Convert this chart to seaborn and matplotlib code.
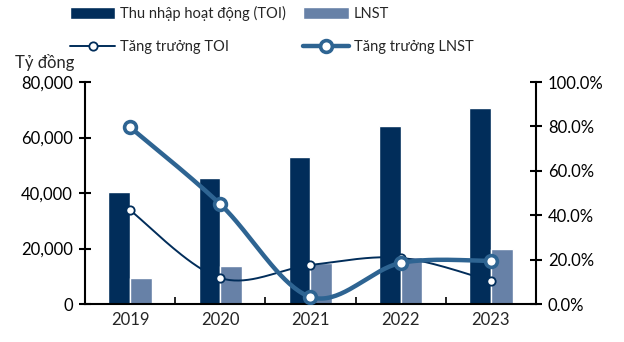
import numpy as np
import pandas as pd
import matplotlib
matplotlib.use("Agg")
import matplotlib.pyplot as plt
import seaborn as sns
from matplotlib.patches import Patch
from matplotlib.lines import Line2D
from matplotlib.ticker import FuncFormatter, FixedLocator

years = ["2019", "2020", "2021", "2022", "2023"]
toi = [40500, 45400, 53000, 64000, 70700]
lnst = [9400, 13700, 14800, 17000, 19800]
toi_growth = [42.3, 11.7, 17.6, 20.8, 10.4]
lnst_growth = [79.7, 45.0, 3.2, 18.5, 19.4]

c_toi = "#012d5a"
c_lnst = "#6781a7"
c_line2 = "#2e6492"

sns.set_theme(style="white")
plt.rcParams["font.family"] = ["Lato", "DejaVu Sans"]
plt.rcParams["font.size"] = 11

df = pd.DataFrame({
    "year": years * 2,
    "value": toi + lnst,
    "series": ["Thu nhập hoạt động (TOI)"] * 5 + ["LNST"] * 5,
})

fig = plt.figure(figsize=(6.24, 3.42), dpi=100)
ax = fig.add_axes([0.136, 0.111, 0.723, 0.649])

sns.barplot(data=df, x="year", y="value", hue="series",
            palette=[c_toi, c_lnst], width=0.48, gap=0, ax=ax,
            legend=False, errorbar=None, saturation=1)

ax.set_xlim(-0.5, 4.5)
ax.set_ylim(0, 80000)
ax.set_yticks([0, 20000, 40000, 60000, 80000])
ax.yaxis.set_major_formatter(FuncFormatter(lambda v, p: f"{v:,.0f}"))
ax.set_xlabel("")
ax.set_ylabel("")
for s in ["top", "right"]:
    ax.spines[s].set_visible(False)
for s in ["left", "bottom"]:
    ax.spines[s].set_color("black")
    ax.spines[s].set_linewidth(1.5)
ax.tick_params(axis="y", which="major", direction="inout", length=9, width=1.5,
               colors="black", labelsize=12, left=True, pad=4)
ax.tick_params(axis="x", which="major", length=0, labelsize=12, pad=6)
ax.xaxis.set_minor_locator(FixedLocator([0.5, 1.5, 2.5, 3.5]))
ax.tick_params(axis="x", which="minor", direction="in", length=5, width=1.2,
               bottom=True, color="black")
ax.text(-0.09, 1.05, "Tỷ đồng", transform=ax.transAxes, fontsize=12,
        ha="center", va="bottom")

ax2 = ax.twinx()
ax2.set_ylim(0, 100)
ax2.set_yticks([0, 20, 40, 60, 80, 100])
ax2.yaxis.set_major_formatter(FuncFormatter(lambda v, p: f"{v:.1f}%"))
for s in ["top", "left", "bottom"]:
    ax2.spines[s].set_visible(False)
ax2.spines["right"].set_color("black")
ax2.spines["right"].set_linewidth(1.5)
ax2.tick_params(axis="y", direction="inout", length=9, width=1.5, colors="black",
                labelsize=12, right=True, pad=4)
ax2.grid(False)
ax.grid(False)


def smooth(xs, ys, sx=90.0, sy=2.22, n=40):
    # Excel-like smoothing in screen-ish space
    p = np.column_stack([np.asarray(xs, float) * sx, np.asarray(ys, float) * sy])
    pts = [p[0]]
    for i in range(len(p) - 1):
        p0 = p[i - 1] if i > 0 else p[i]
        p1, p2 = p[i], p[i + 1]
        p3 = p[i + 2] if i + 2 < len(p) else p[i + 1]
        c1 = p1 + (p2 - p0) / 6
        c2 = p2 - (p3 - p1) / 6
        t = np.linspace(0, 1, n)[1:, None]
        seg = ((1 - t) ** 3) * p1 + 3 * ((1 - t) ** 2) * t * c1 + 3 * (1 - t) * t ** 2 * c2 + t ** 3 * p2
        pts.extend(seg)
    pts = np.array(pts)
    return pts[:, 0] / sx, pts[:, 1] / sy


xpos = np.arange(len(years))
sx1, sy1 = smooth(xpos, toi_growth)
ax2.plot(sx1, sy1, color=c_toi, lw=1.4, zorder=3)
ax2.plot(xpos, toi_growth, ls="none", marker="o", ms=6, mfc="white",
         mec=c_toi, mew=1.3, zorder=4)
sx2, sy2 = smooth(xpos, lnst_growth)
ax2.plot(sx2, sy2, color=c_line2, lw=3.2, zorder=3)
ax2.plot(xpos, lnst_growth, ls="none", marker="o", ms=8.5, mfc="white",
         mec=c_line2, mew=2.6, zorder=4)

handles = [
    Patch(facecolor=c_toi, label="Thu nhập hoạt động (TOI)"),
    Patch(facecolor=c_lnst, label="LNST"),
    Line2D([], [], color=c_toi, lw=1.4, marker="o", ms=6, mfc="white",
           mec=c_toi, mew=1.3, label="Tăng trưởng TOI"),
    Line2D([], [], color=c_line2, lw=3.2, marker="o", ms=8.5, mfc="white",
           mec=c_line2, mew=2.6, label="Tăng trưởng LNST"),
]
leg = fig.legend(handles=[handles[0], handles[2], handles[1], handles[3]],
                 ncol=2, loc="upper left", bbox_to_anchor=(0.091, 1.02),
                 frameon=False, fontsize=10.5,
                 handlelength=3.1, handleheight=0.85,
                 handletextpad=0.34, labelspacing=1.3, columnspacing=1.2)

fig.savefig("out.png", dpi=100)
